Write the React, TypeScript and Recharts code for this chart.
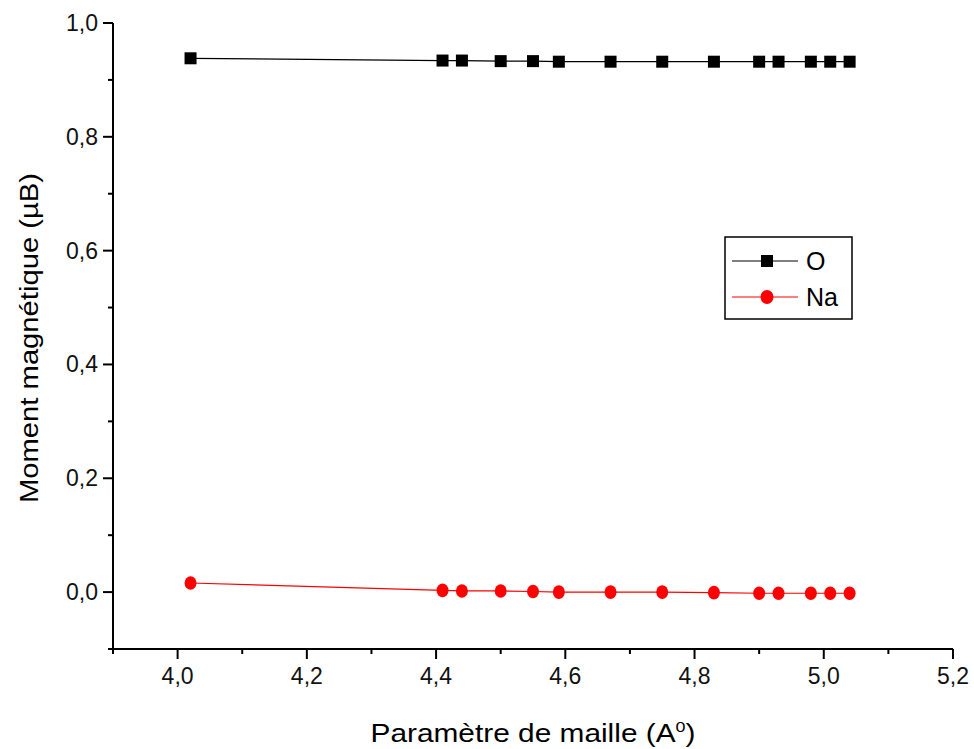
import React from "react";
import {
  LineChart, Line, XAxis, YAxis, Label
} from "recharts";

// lattice parameter (A°) for each computed point
const latticeParams = [4.02, 4.41, 4.44, 4.5, 4.55, 4.59, 4.67, 4.75, 4.83, 4.9, 4.93, 4.98, 5.01, 5.04];
// magnetic moment (µB)
const momentO = [0.938, 0.934, 0.934, 0.933, 0.933, 0.932, 0.932, 0.932, 0.932, 0.932, 0.932, 0.932, 0.932, 0.932];
const momentNa = [0.016, 0.003, 0.002, 0.002, 0.001, 0.0, 0.0, 0.0, -0.001, -0.002, -0.002, -0.002, -0.002, -0.002];

const xTicks = [3.9, 4.0, 4.1, 4.2, 4.3, 4.4, 4.5, 4.6, 4.7, 4.8, 4.9, 5.0, 5.1, 5.2];
const yTicks = [-0.1, 0.0, 0.1, 0.2, 0.3, 0.4, 0.5, 0.6, 0.7, 0.8, 0.9, 1.0];

const data = latticeParams.map((a, i) => ({ a, O: momentO[i], Na: momentNa[i] }));

const FONT = "Arial, 'Liberation Sans', sans-serif";
const isMajor = (v: number) => Math.round(v * 10) % 2 === 0;
const fmt = (v: number) => v.toFixed(1).replace(".", ",");

function XTick({ x, y, payload }: any) {
  const major = isMajor(payload.value);
  return (
    <g>
      <line x1={x} x2={x} y1={y} y2={y + (major ? 10 : 5)} stroke="#000" strokeWidth={2} />
      {major && (
        <text x={x} y={y + 35} textAnchor="middle" fontSize={23} fontFamily={FONT} fill="#111">
          {fmt(payload.value)}
        </text>
      )}
    </g>
  );
}

function YTick({ x, y, payload }: any) {
  const major = isMajor(payload.value);
  return (
    <g>
      <line x1={x} x2={x - (major ? 10 : 5)} y1={y} y2={y} stroke="#000" strokeWidth={2} />
      {major && (
        <text x={x - 15} y={y + 8} textAnchor="end" fontSize={23} fontFamily={FONT} fill="#111">
          {fmt(payload.value)}
        </text>
      )}
    </g>
  );
}

function SquareDot({ cx, cy, index }: any) {
  return <rect key={`o-${index}`} x={cx - 6} y={cy - 6} width={12} height={12} fill="#000" />;
}

function CircleDot({ cx, cy, index }: any) {
  return <ellipse key={`na-${index}`} cx={cx} cy={cy} rx={6} ry={6.8} fill="#ff0000" />;
}

function LegendBox() {
  return (
    <svg width={130} height={85} style={{ position: "absolute", left: 724, top: 236 }}>
      <rect x={1} y={1} width={127} height={82} fill="#fff" stroke="#000" strokeWidth={1.5} />
      <line x1={8} x2={74} y1={25} y2={25} stroke="#000" strokeWidth={1.2} />
      <rect x={37} y={19} width={12} height={12} fill="#000" />
      <text x={82} y={34} fontSize={25} fontFamily={FONT} fill="#000">O</text>
      <line x1={8} x2={74} y1={61} y2={61} stroke="#ff0000" strokeWidth={1.2} />
      <ellipse cx={43} cy={61} rx={6.5} ry={7} fill="#ff0000" />
      <text x={82} y={70} fontSize={25} fontFamily={FONT} fill="#000">Na</text>
    </svg>
  );
}

export default function App() {
  return (
    <div style={{ position: "absolute", left: 0, top: 0, width: 974, height: 749, background: "#fff" }}>
      <LineChart width={974} height={749} data={data} margin={{ top: 23, right: 21, bottom: 0, left: 0 }}>
        <XAxis
          dataKey="a" type="number" domain={[3.9, 5.2]} ticks={xTicks}
          height={100} tickSize={0} tickMargin={0} tickLine={false}
          axisLine={{ stroke: "#000", strokeWidth: 2 }} tick={<XTick />} interval={0}
          allowDataOverflow
        >
          <Label
            content={() => (
              <text x={533} y={742} textAnchor="middle" fontSize={25} fontFamily={FONT} fill="#000"
                textLength={325} lengthAdjust="spacingAndGlyphs">
                Paramètre de maille (A<tspan dy={-10} fontSize={15}>0</tspan><tspan dy={10}>)</tspan>
              </text>
            )}
          />
        </XAxis>
        <XAxis
          xAxisId="top" orientation="top" dataKey="a" type="number" domain={[3.9, 5.2]}
          height={0} tick={false} tickLine={false} axisLine={{ stroke: "#000", strokeWidth: 2 }}
        />
        <YAxis
          type="number" domain={[-0.1, 1.0]} ticks={yTicks} width={113}
          tickSize={0} tickMargin={0} tickLine={false} interval={0}
          axisLine={{ stroke: "#000", strokeWidth: 2 }} tick={<YTick />}
          allowDataOverflow
        >
          <Label
            content={() => (
              <text x={38} y={338} transform="rotate(-90, 38, 338)" textAnchor="middle" fontSize={25}
                fontFamily={FONT} fill="#000" textLength={330} lengthAdjust="spacingAndGlyphs">
                Moment magnétique (µB)
              </text>
            )}
          />
        </YAxis>
        <YAxis
          yAxisId="right" orientation="right" type="number" domain={[-0.1, 1.0]}
          width={0} tick={false} tickLine={false} axisLine={{ stroke: "#000", strokeWidth: 2 }}
        />
        <Line
          dataKey="O" stroke="#000" strokeWidth={1.2} dot={<SquareDot />} activeDot={false}
          isAnimationActive={false} legendType="none"
        />
        <Line
          dataKey="Na" stroke="#ff0000" strokeWidth={1.2} dot={<CircleDot />} activeDot={false}
          isAnimationActive={false} legendType="none"
        />
      </LineChart>
      <LegendBox />
    </div>
  );
}
